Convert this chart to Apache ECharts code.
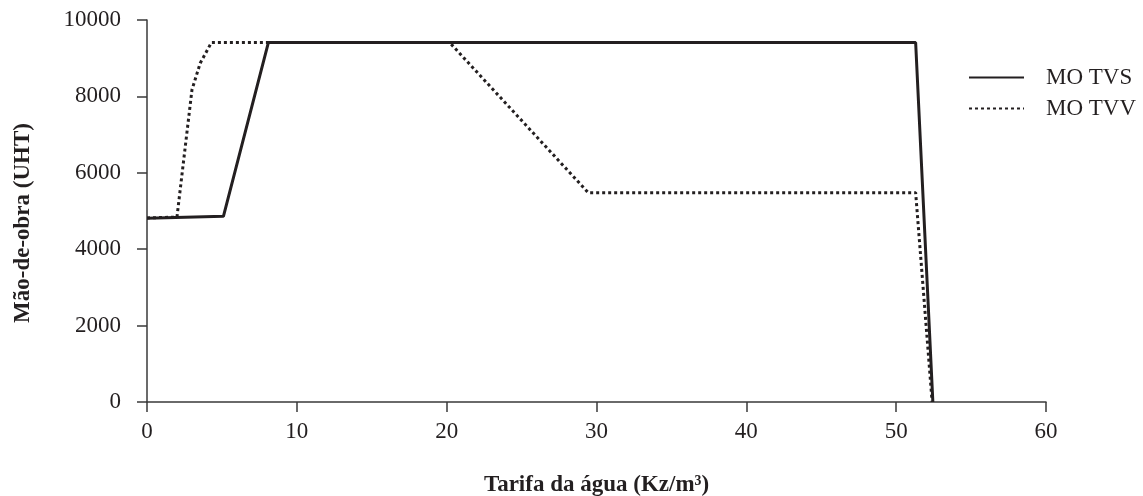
<!DOCTYPE html>
<html><head><meta charset="utf-8">
<script src="https://cdn.jsdelivr.net/npm/echarts@6/dist/echarts.min.js"></script>
<style>html,body{margin:0;padding:0;background:#fff}#c{width:1143px;height:496px}</style>
</head><body><div id="c"></div>
<script>
const seriesNames = ['MO TVS', 'MO TVV'];
const tvsPoints = [[0,4810],[5.1,4860],[8.1,9410],[51.3,9410],[52.45,0]];
const tvvPoints = [[0,4820],[2,4840],[3,8170],[3.55,8870],[4.3,9410],[20.2,9410],[29.45,5480],[51.3,5480],[52.4,0]];
const xName = 'Tarifa da água (Kz/m³)';
const yName = 'Mão-de-obra (UHT)';

const FONT = '"Liberation Serif", serif';
const INK = '#231f20';
const AX = '#3a3a3a';
const chart = echarts.init(document.getElementById('c'), null, {renderer:'canvas'});
chart.setOption({
  animation:false,
  backgroundColor:'#fff',
  grid:{left:147,right:97,top:20,bottom:94,containLabel:false,outerBoundsMode:'none'},
  legend:{
    orient:'vertical', left:963, top:61, itemWidth:55, itemHeight:14, itemGap:8,
    data:seriesNames,
    itemStyle:{opacity:0},
    textStyle:{fontFamily:FONT,fontSize:23,color:INK,lineHeight:23,padding:[0,0,0,17]}
  },
  xAxis:{
    type:'value', min:0, max:60, interval:10,
    name:xName, nameLocation:'middle', nameGap:72,
    nameTextStyle:{fontFamily:FONT,fontSize:23,fontWeight:'bold',color:INK},
    axisLine:{lineStyle:{color:AX,width:1.5}},
    axisTick:{show:true,length:10,lineStyle:{color:AX,width:1.5}},
    axisLabel:{fontFamily:FONT,fontSize:23,color:INK,margin:18},
    splitLine:{show:false}
  },
  yAxis:{
    type:'value', min:0, max:10000, interval:2000,
    name:yName, nameLocation:'middle', nameGap:112,
    nameTextStyle:{fontFamily:FONT,fontSize:23,fontWeight:'bold',color:INK,padding:[0,24,0,0]},
    axisLine:{show:true,lineStyle:{color:AX,width:1.5}},
    axisTick:{show:true,length:10,lineStyle:{color:AX,width:1.5}},
    axisLabel:{fontFamily:FONT,fontSize:23,color:INK,margin:26,formatter:function(v){return String(v);}},
    splitLine:{show:false}
  },
  series:[
    {name:seriesNames[0],type:'line',data:tvsPoints,symbol:'none',
     lineStyle:{color:INK,width:3,type:'solid'},itemStyle:{color:INK},z:3},
    {name:seriesNames[1],type:'line',data:tvvPoints,symbol:'none',
     lineStyle:{color:INK,width:3,type:[3,3],cap:'butt'},itemStyle:{color:INK},z:2}
  ]
});
</script></body></html>
